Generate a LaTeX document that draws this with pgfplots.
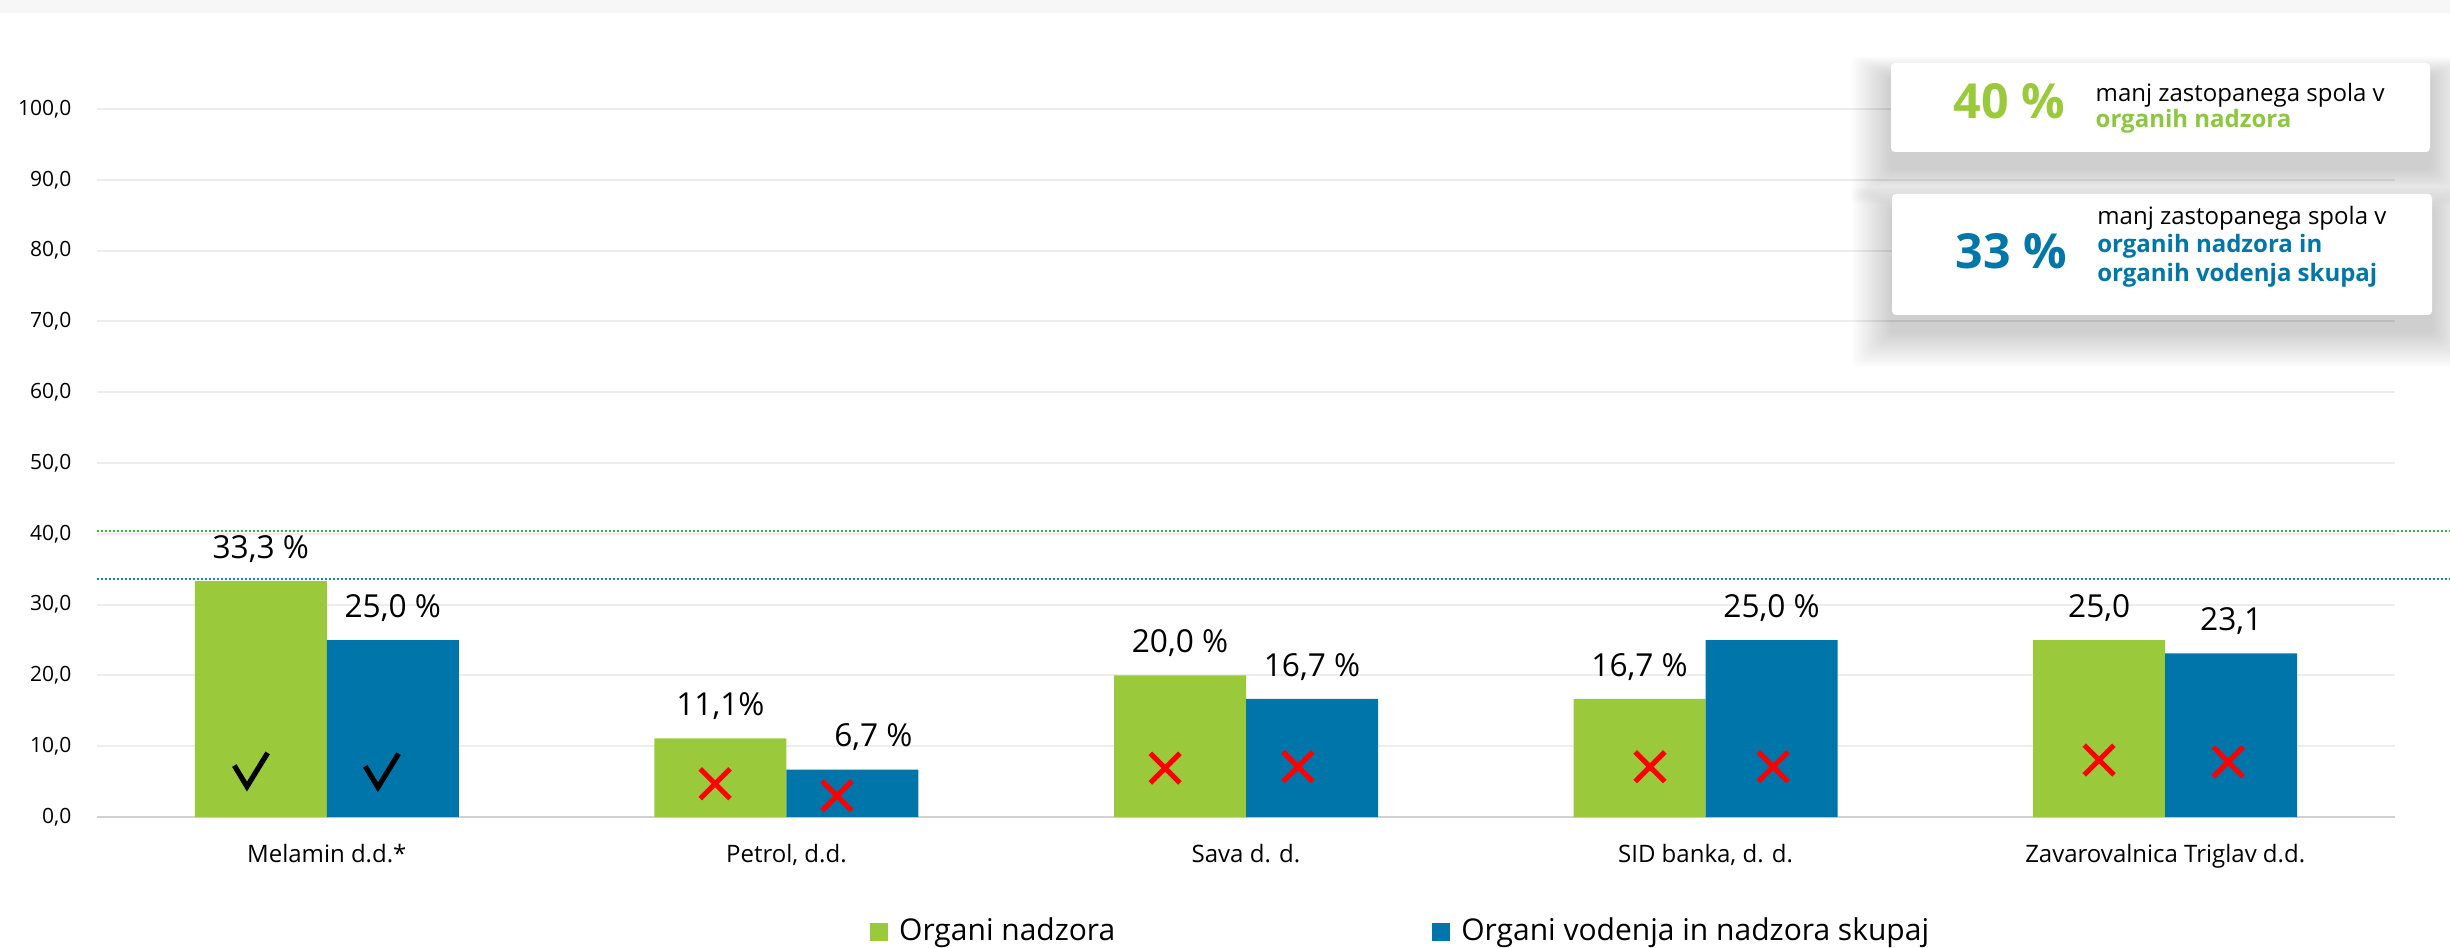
\documentclass[border=0pt]{standalone}
\usepackage{fontspec}
\setmainfont{Open Sans}
\usepackage{pgfplots}
\pgfplotsset{compat=1.18}
\definecolor{cgreen}{HTML}{9BC93C}
\definecolor{cblue}{HTML}{0075A9}
\definecolor{dgreen}{HTML}{3CB43C}
\definecolor{dblue}{HTML}{1F7FC0}
\definecolor{tgreen}{HTML}{8DC63F}
\definecolor{tblue}{HTML}{0077A8}
\pgfdeclareplotmark{chk}{%
  \pgfsetmiterjoin
  \pgfpathmoveto{\pgfqpoint{-5pt}{1.2pt}}%
  \pgfpathlineto{\pgfqpoint{-1.2pt}{-5.1pt}}%
  \pgfpathlineto{\pgfqpoint{5pt}{5pt}}%
  \pgfusepathqstroke}
\begin{document}
\begin{tikzpicture}[x=1pt,y=1pt]
\begin{axis}[
  width=689.4pt, height=212.4pt, scale only axis,
  xmin=-0.5, xmax=4.5, ymin=0, ymax=100,
  clip=false,
  axis x line*=bottom, axis y line*=left,
  y axis line style={draw=none},
  x axis line style={draw=black!18, line width=0.75pt},
  major tick length=0pt,
  ytick={0,10,...,100},
  ymajorgrids, grid style={draw=black!7, line width=0.6pt},
  xtick={0,...,4},
  xticklabels={Melamin d.d.*, {Petrol, d.d.}, Sava d. d., {SID banka, d. d.}, Zavarovalnica Triglav d.d.},
  xticklabel style={font=\fontsize{7.2}{8}\selectfont, anchor=base, yshift=-13.5pt, inner sep=0pt},
  yticklabel style={font=\fontsize{6.3}{7}\selectfont, anchor=east, inner sep=0pt, xshift=-7.5pt,
    /pgf/number format/fixed, /pgf/number format/fixed zerofill,
    /pgf/number format/precision=1, /pgf/number format/use comma,
    /pgf/number format/assume math mode=true},
  every node near coord/.append style={font=\fontsize{9.5}{11}\selectfont, text=black, inner sep=0pt, text depth=0pt, anchor=south, yshift=6.6pt},
  legend style={at={(axis description cs:0.336,-0.1624)}, anchor=west, draw=none, fill=none,
    inner sep=0pt, font=\fontsize{9}{10}\selectfont, legend columns=2,
    nodes={inner sep=0pt},
    /tikz/every even column/.append style={column sep=95pt}},
  legend cell align=left,
]
\coordinate (BL) at (rel axis cs:0,0);
\addplot[ybar, bar width=39.6pt, bar shift=-19.8pt, fill=cgreen, draw=none, forget plot,
  nodes near coords, point meta=explicit symbolic,
  every node near coord/.append style={xshift=-19.8pt}]
  coordinates {(0,33.3)[33,3 \%] (1,11.1)[11,1\%] (2,20.0)[20,0 \%] (3,16.7)[16,7 \%] (4,25.0)[25,0]};
\addplot[ybar, bar width=39.6pt, bar shift=19.8pt, fill=cblue, draw=none, forget plot,
  nodes near coords, point meta=explicit symbolic,
  every node near coord/.append style={xshift=19.8pt}]
  coordinates {(0,25.0)[25,0 \%] (1,6.7)[\hspace*{12.6pt}6,7 \%] (2,16.7)[16,7 \%] (3,25.0)[25,0 \%] (4,23.1)[23,1]};
\addplot[dgreen, line width=0.8pt, dash pattern=on 0.6pt off 0.6pt, forget plot]
  coordinates {(-0.5,40.4) (4.62,40.4)};
\addplot[dblue, line width=0.8pt, dash pattern=on 0.6pt off 0.6pt, forget plot]
  coordinates {(-0.5,33.6) (4.62,33.6)};
\addplot[only marks, mark=chk, mark options={line width=1.55pt, draw=black}, forget plot]
  coordinates {(-0.165,6.7) (0.120,6.6)};
\addplot[only marks, mark=x, mark size=6.3pt, mark options={draw=red, line width=1.5pt}, forget plot]
  coordinates {(0.845,4.7) (1.110,3.0) (1.824,6.9) (2.113,7.1) (2.879,7.1) (3.147,7.1) (3.856,8.05) (4.137,7.8)};
\addlegendimage{legend image code/.code={\fill[cgreen] (0pt,-2.5pt) rectangle (5pt,2.5pt); \path (8.4pt,0pt);}}
\addlegendentry{Organi nadzora}
\addlegendimage{legend image code/.code={\fill[cblue] (0pt,-2.5pt) rectangle (5pt,2.5pt); \path (8.4pt,0pt);}}
\addlegendentry{Organi vodenja in nadzora skupaj}
\end{axis}
\pgfresetboundingbox
\begin{scope}[shift={(BL)}, xshift=-29.1pt, yshift=-39pt]
\path[use as bounding box] (0,0) rectangle (735,284.1);
\fill[black!3] (0,280.2) rectangle (735,284.1);
% soft shadows
\foreach \r in {1,...,24} {
  \fill[black, opacity=0.008, rounded corners=2pt] ({567.3-0.5*\r},{238.5-5-0.45*\r}) rectangle ({729+0.5*\r},{265.2-4+0.25*\r});
  \fill[black, opacity=0.008, rounded corners=2pt] ({567.6-0.5*\r},{189.6-5-0.45*\r}) rectangle ({729.6+0.5*\r},{225.9-4+0.25*\r});
}
\fill[white, rounded corners=1.2pt] (567.3,238.5) rectangle (729,265.2);
\fill[white, rounded corners=1.2pt] (567.6,189.6) rectangle (729.6,225.9);
\node[anchor=base west, inner sep=0pt, text=cgreen, font=\fontsize{14.5}{17}\selectfont\bfseries] at (585.9,248.6) {40 \%};
\node[anchor=base west, inner sep=0pt, font=\fontsize{7.2}{8.5}\selectfont] at (628.5,253.5) {manj zastopanega spola v};
\node[anchor=base west, inner sep=0pt, text=tgreen, font=\fontsize{7.2}{8.5}\selectfont\bfseries] at (628.5,245.7) {organih nadzora};
\node[anchor=base west, inner sep=0pt, text=tblue, font=\fontsize{14.5}{17}\selectfont\bfseries] at (586.5,203.4) {33 \%};
\node[anchor=base west, inner sep=0pt, font=\fontsize{7.2}{8.5}\selectfont] at (629,216.6) {manj zastopanega spola v};
\node[anchor=base west, inner sep=0pt, text=tblue, font=\fontsize{7.2}{8.5}\selectfont\bfseries] at (629,208.2) {organih nadzora in};
\node[anchor=base west, inner sep=0pt, text=tblue, font=\fontsize{7.2}{8.5}\selectfont\bfseries] at (629,199.5) {organih vodenja skupaj};
\end{scope}
\end{tikzpicture}
\end{document}
